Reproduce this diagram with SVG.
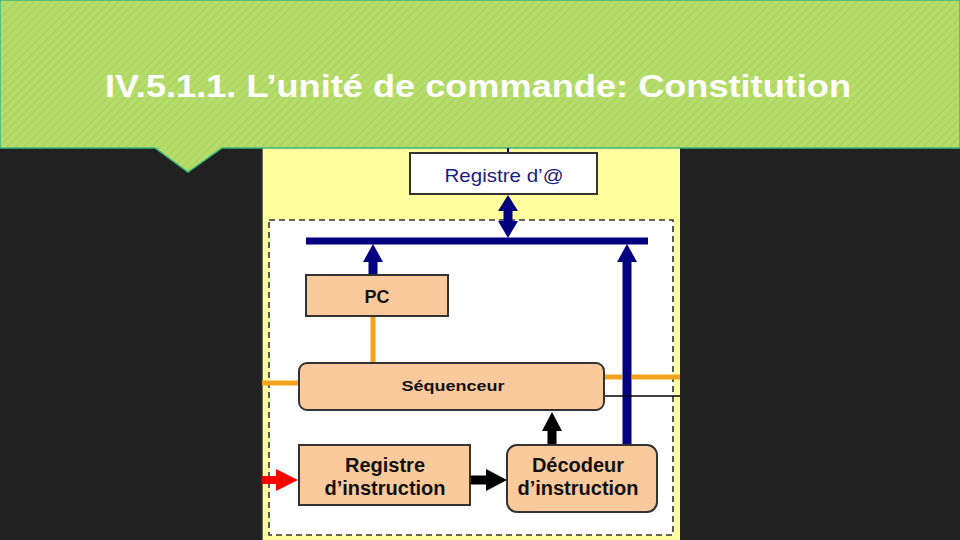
<svg xmlns="http://www.w3.org/2000/svg" width="960" height="540" viewBox="0 0 960 540">
<defs>
<pattern id="stripes" width="6" height="6" patternUnits="userSpaceOnUse" patternTransform="rotate(45)">
<rect width="6" height="6" fill="#b6dd6b"/>
<rect width="2" height="6" fill="#acd562"/>
</pattern>
</defs>
<style>
.box{fill:#fbca9c;stroke:#333;stroke-width:2}
.lbl{font-family:"Liberation Sans",Arial,sans-serif;font-weight:bold;fill:#111}
.navy{stroke:#000080;stroke-width:9;fill:none}
.navyf{fill:#000080}
.orange{stroke:#f7a21b;stroke-width:5;fill:none}
</style>
<rect width="960" height="540" fill="#212121"/>
<!-- picture panel -->
<rect x="262" y="148" width="418" height="392" fill="#ffff9d"/>
<line x1="262" y1="148" x2="262" y2="540" stroke="#333" stroke-width="1.5"/>
<rect x="269" y="220" width="404" height="315" fill="#fff" stroke="#333" stroke-width="1.6" stroke-dasharray="6,4"/>
<!-- banner -->
<g id="banner">
<path d="M0,0 H960 V148 H222 L188,172 L155,148 H0 Z" fill="url(#stripes)" stroke="#3ab87a" stroke-width="1.5"/>
<text x="478" y="97" font-family="Liberation Sans,Arial,sans-serif" font-weight="bold" font-size="31" fill="#fff" text-anchor="middle" textLength="746" lengthAdjust="spacingAndGlyphs">IV.5.1.1. L’unité de commande: Constitution</text>
</g>
<g id="connectors">
<line x1="508" y1="148" x2="508" y2="153" stroke="#000080" stroke-width="2"/>
<!-- double arrow -->
<line x1="508" y1="208" x2="508" y2="224" class="navy"/>
<polygon class="navyf" points="508,195 518,211 498,211"/>
<polygon class="navyf" points="508,238 518,221 498,221"/>
<!-- bus -->
<line x1="306" y1="241" x2="648" y2="241" stroke="#000080" stroke-width="7"/>
<!-- PC to bus -->
<line x1="373" y1="275" x2="373" y2="258" class="navy"/>
<polygon class="navyf" points="373,244 383,262 363,262"/>
<!-- decoder to bus -->
<line x1="627" y1="445" x2="627" y2="258" class="navy"/>
<polygon class="navyf" points="627,244 637,262 617,262"/>
<!-- orange -->
<line x1="373" y1="316" x2="373" y2="363" class="orange"/>
<line x1="262" y1="383" x2="299" y2="383" class="orange"/>
<line x1="604" y1="377" x2="622" y2="377" class="orange"/>
<line x1="632" y1="377" x2="680" y2="377" class="orange"/>
<line x1="604" y1="396" x2="680" y2="396" stroke="#000" stroke-width="1.5"/>
<!-- red input -->
<line x1="262" y1="480" x2="278" y2="480" stroke="#ff0000" stroke-width="8"/>
<polygon fill="#ff0000" points="298,480 276,469 276,491"/>
<!-- RI to decoder -->
<line x1="470" y1="480" x2="488" y2="480" stroke="#000" stroke-width="9"/>
<polygon fill="#000" points="507,480 486,469 486,491"/>
<!-- decoder to sequencer -->
<line x1="552" y1="445" x2="552" y2="428" stroke="#000" stroke-width="9"/>
<polygon fill="#000" points="552,412 562,431 542,431"/>
</g>
<g id="registre-adresse">
<rect x="410" y="153" width="187" height="41" fill="#fff" stroke="#333" stroke-width="2"/>
<text x="504" y="182" font-family="Liberation Sans,Arial,sans-serif" font-size="19" fill="#1c1c80" text-anchor="middle" textLength="119" lengthAdjust="spacingAndGlyphs">Registre d’@</text>
</g>
<g id="pc">
<rect class="box" x="306" y="275" width="142" height="41"/>
<text class="lbl" x="377" y="303" font-size="18" text-anchor="middle">PC</text>
</g>
<g id="sequenceur">
<rect class="box" x="299" y="363" width="305" height="47" rx="8"/>
<text class="lbl" x="453" y="391" font-size="15" text-anchor="middle" textLength="103" lengthAdjust="spacingAndGlyphs">Séquenceur</text>
</g>
<g id="registre-instruction">
<rect class="box" x="299" y="445" width="171" height="60"/>
<text class="lbl" x="385" y="472" font-size="20" text-anchor="middle">Registre</text>
<text class="lbl" x="385" y="495" font-size="20" text-anchor="middle">d’instruction</text>
</g>
<g id="decodeur">
<rect class="box" x="507" y="445" width="150" height="67" rx="10"/>
<text class="lbl" x="578" y="472" font-size="20" text-anchor="middle">Décodeur</text>
<text class="lbl" x="578" y="495" font-size="20" text-anchor="middle">d’instruction</text>
</g>
</svg>
